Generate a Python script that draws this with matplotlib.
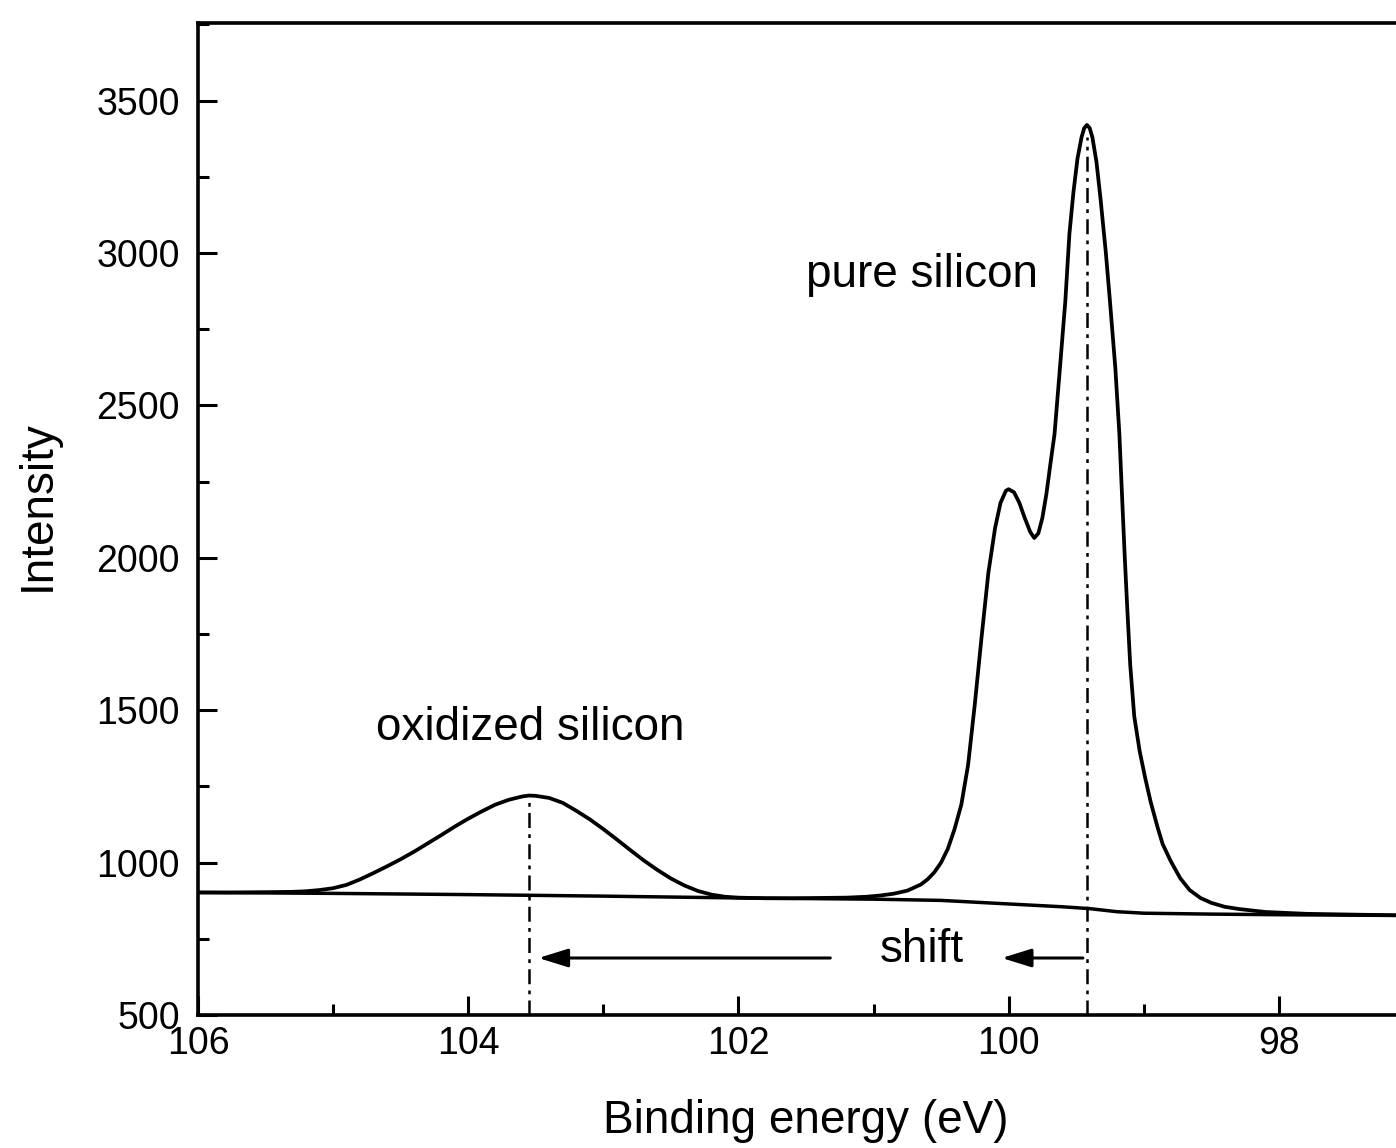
import matplotlib.pyplot as plt

plt.rcParams['font.family'] = ['Liberation Sans', 'DejaVu Sans']

# Curva envolvente del espectro XPS Si 2p
energy = [106.0, 105.8, 105.5, 105.3, 105.2, 105.1, 105.0, 104.9, 104.8, 104.7,
          104.6, 104.5, 104.4, 104.3, 104.2, 104.1, 104.0, 103.9, 103.8, 103.7,
          103.6, 103.55, 103.5, 103.4, 103.3, 103.2, 103.1, 103.0, 102.9, 102.8,
          102.7, 102.6, 102.5, 102.4, 102.3, 102.2, 102.1, 102.0, 101.8, 101.6,
          101.4, 101.2, 101.05, 100.95, 100.85, 100.75, 100.65, 100.6, 100.55, 100.5,
          100.45, 100.4, 100.35, 100.3, 100.25, 100.2, 100.15, 100.1, 100.06, 100.02,
          100.0, 99.96, 99.92, 99.88, 99.84, 99.81, 99.78, 99.75, 99.72, 99.69,
          99.66, 99.62, 99.58, 99.55, 99.52, 99.49, 99.46, 99.44, 99.42, 99.40,
          99.38, 99.35, 99.32, 99.28, 99.25, 99.21, 99.18, 99.16, 99.14, 99.12,
          99.10, 99.07, 99.03, 98.99, 98.95, 98.9, 98.86, 98.8, 98.73, 98.66,
          98.58, 98.5, 98.4, 98.3, 98.1, 97.8, 97.4, 96.9]
intensity = [902, 902, 903, 904, 906, 910, 916, 927, 945, 966,
             988, 1011, 1036, 1063, 1090, 1118, 1144, 1168, 1190, 1206,
             1217, 1220, 1219, 1212, 1196, 1170, 1142, 1110, 1076, 1041,
             1007, 976, 948, 925, 907, 895, 888, 885, 883, 883,
             884, 885, 888, 892, 898, 908, 928, 945, 968, 1000,
             1045, 1110, 1190, 1320, 1520, 1740, 1950, 2098, 2180, 2220,
             2225, 2215, 2180, 2130, 2085, 2065, 2080, 2131, 2210, 2310,
             2406, 2623, 2843, 3062, 3200, 3310, 3380, 3410, 3420, 3410,
             3380, 3300, 3180, 3000, 2843, 2623, 2406, 2200, 2000, 1820,
             1650, 1480, 1366, 1280, 1202, 1120, 1061, 1005, 949, 910,
             884, 868, 855, 848, 838, 832, 829, 826]

# Fondo (tipo Shirley)
bg_energy = [106.0, 105.0, 104.0, 103.0, 102.0, 101.0, 100.5, 100.2, 99.9, 99.6,
             99.4, 99.2, 99.0, 98.5, 98.0, 96.9]
bg_intensity = [902, 899, 895, 890, 884, 880, 876, 869, 862, 855,
                849, 839, 834, 831, 829, 826]

# Posiciones de los picos marcados
peak_oxide = (103.55, 1220)
peak_pure = (99.42, 3380)

fig = plt.figure(figsize=(13.96, 11.48), dpi=100)
ax = fig.add_axes([198 / 1396, 133 / 1148, 1222 / 1396, 992 / 1148])

ax.plot(energy, intensity, color='black', lw=2.7, solid_joinstyle='round')
ax.plot(bg_energy, bg_intensity, color='black', lw=2.5)

dashdot = (0, (6, 2.5, 1.5, 2.5))
for e, top in (peak_oxide, peak_pure):
    ax.plot([e, e], [500, top], color='black', lw=1.8, linestyle=dashdot)

arrow = dict(arrowstyle='-|>,head_length=0.9,head_width=0.28', color='black',
             lw=2.2, mutation_scale=20, shrinkA=0, shrinkB=0)
ax.annotate('', xy=(103.48, 687), xytext=(101.32, 687), arrowprops=arrow)
ax.annotate('', xy=(100.05, 687), xytext=(99.45, 687), arrowprops=arrow)

ax.text(100.64, 712, 'shift', fontsize=33, ha='center', va='center')
ax.text(103.54, 1440, 'oxidized silicon', fontsize=33, ha='center', va='center')
ax.text(100.64, 2927, 'pure silicon', fontsize=33, ha='center', va='center')

ax.set_xlim(106, 106 - 1222 / 135.1)
ax.set_ylim(500, 500 + 992 / 0.3048)
ax.set_xticks([106, 104, 102, 100, 98])
ax.set_xticks([105, 103, 101, 99, 97], minor=True)
ax.set_yticks(range(500, 3501, 500))
ax.set_yticks(range(750, 3751, 500), minor=True)

ax.tick_params(which='both', direction='in', width=2.2, labelsize=27)
ax.tick_params(which='major', length=14)
ax.tick_params(which='minor', length=8)
ax.tick_params(axis='y', pad=13)
ax.tick_params(axis='x', pad=8)
for s in ax.spines.values():
    s.set_linewidth(2.6)

ax.set_xlabel('Binding energy (eV)', fontsize=33)
ax.set_ylabel('Intensity', fontsize=33)
ax.xaxis.set_label_coords(0.497, -0.085)
ax.yaxis.set_label_coords(-0.113, 0.514)

fig.savefig('out.png', dpi=100)
